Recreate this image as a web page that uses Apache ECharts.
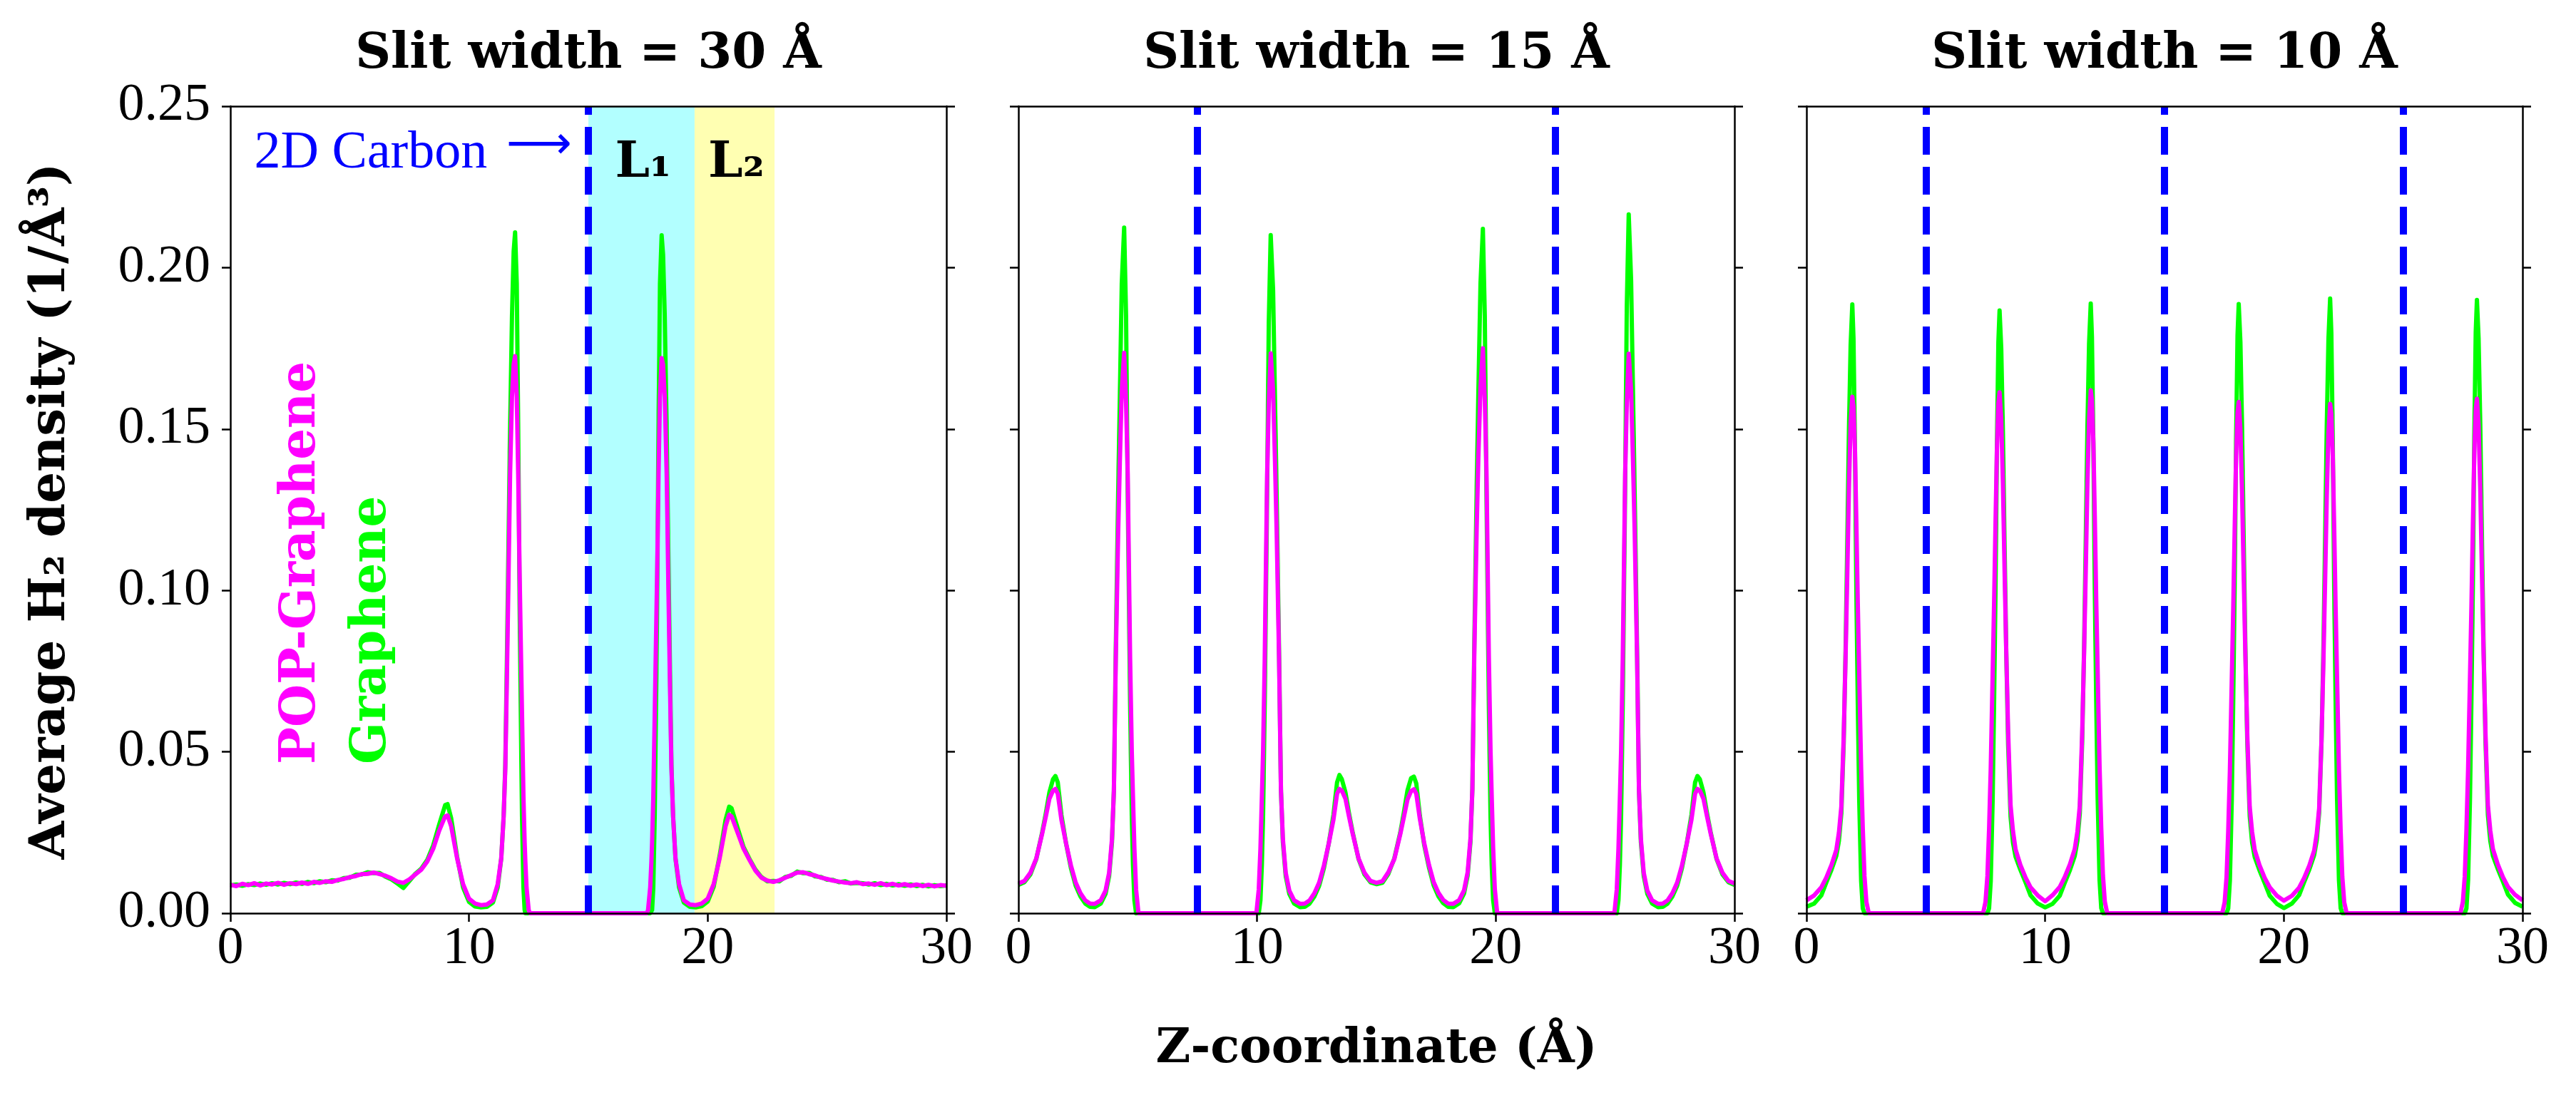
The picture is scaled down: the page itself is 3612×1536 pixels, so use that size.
<!DOCTYPE html>
<html><head><meta charset="utf-8">
<script src="https://cdn.jsdelivr.net/npm/echarts@6/dist/echarts.min.js"></script>
<style>html,body{margin:0;padding:0;background:#fff}#c{width:3612px;height:1536px}</style>
</head><body><div id="c"></div>
<script>
// ---------- data ----------
const panelTitles = ['Slit width = 30 Å', 'Slit width = 15 Å', 'Slit width = 10 Å'];
const wallPositions = [[15], [7.5, 22.5], [5, 15, 25]];
const xRange = [0, 30], xStep = 10;
const yRange = [0, 0.25], yStep = 0.05;
const layerBands = [
  {label: 'L₁', from: 15, to: 19.45, color: '#b2ffff', textAt: 17.3},
  {label: 'L₂', from: 19.45, to: 22.8, color: '#ffffb2', textAt: 21.2}
];
// rows: [z (Å), POP-Graphene density, Graphene density]
const p1Rows = [
[0.00,0.0088,0.0086],[0.25,0.0084,0.0089],[0.50,0.0091,0.0085],[0.75,0.0087,0.0090],[1.00,0.0093,0.0087],
[1.25,0.0086,0.0092],[1.50,0.0092,0.0088],[1.75,0.0089,0.0093],[2.00,0.0094,0.0089],[2.25,0.0088,0.0094],
[2.50,0.0093,0.0090],[2.75,0.0090,0.0095],[3.00,0.0095,0.0091],[3.25,0.0091,0.0097],[3.50,0.0097,0.0093],
[3.75,0.0094,0.0099],[4.00,0.0099,0.0096],[4.25,0.0097,0.0102],[4.50,0.0103,0.0101],[4.75,0.0106,0.0109],
[5.00,0.0112,0.0110],[5.25,0.0115,0.0119],[5.50,0.0121,0.0120],[5.75,0.0122,0.0127],[6.00,0.0126,0.0124],
[6.25,0.0121,0.0125],[6.50,0.0116,0.0113],[6.75,0.0108,0.0105],[7.00,0.0098,0.0092],[7.25,0.0094,0.0078],
[7.50,0.0105,0.0100],[7.75,0.0120,0.0122],[8.00,0.0135,0.0138],[8.25,0.0160,0.0165],[8.50,0.0200,0.0210],
[8.75,0.0256,0.0275],[9.00,0.0300,0.0335],[9.10,0.0303,0.0338],[9.25,0.0270,0.0295],[9.50,0.0170,0.0175],
[9.75,0.0090,0.0080],[10.00,0.0045,0.0035],[10.25,0.0030,0.0021],[10.50,0.0025,0.0018],[10.75,0.0027,0.0020],
[11.00,0.0040,0.0033],[11.20,0.0090,0.0080],[11.35,0.0170,0.0170],[11.45,0.0300,0.0300],[11.52,0.0450,0.0460],
[11.58,0.0700,0.0750],[11.65,0.1020,0.1120],[11.72,0.1360,0.1500],[11.80,0.1600,0.1850],[11.87,0.1700,0.2050],
[11.93,0.1726,0.2109],[12.00,0.1600,0.1950],[12.06,0.1360,0.1500],[12.12,0.1050,0.0950],[12.18,0.0790,0.0550],
[12.22,0.0620,0.0300],[12.28,0.0360,0.0080],[12.33,0.0220,0.0010],[12.36,0.0160,0],[12.41,0.0080,0],
[12.50,0.0010,0],[12.55,0,0],[15.00,0,0],
[17.45,0,0],[17.50,0.0010,0],[17.59,0.0080,0],[17.64,0.0160,0],[17.67,0.0220,0.0010],[17.72,0.0360,0.0080],
[17.78,0.0620,0.0300],[17.82,0.0790,0.0550],[17.88,0.1050,0.0950],[17.94,0.1360,0.1500],[18.00,0.1600,0.1950],
[18.07,0.1720,0.2100],[18.13,0.1700,0.2040],[18.20,0.1600,0.1850],[18.28,0.1360,0.1500],[18.35,0.1020,0.1120],
[18.42,0.0700,0.0750],[18.48,0.0450,0.0460],[18.55,0.0300,0.0300],[18.65,0.0170,0.0170],[18.80,0.0090,0.0080],
[19.00,0.0040,0.0033],[19.25,0.0027,0.0020],[19.50,0.0025,0.0018],[19.75,0.0030,0.0022],[20.00,0.0045,0.0036],
[20.25,0.0090,0.0082],[20.50,0.0170,0.0178],[20.75,0.0270,0.0290],[20.90,0.0305,0.0330],[21.00,0.0300,0.0325],
[21.25,0.0250,0.0265],[21.50,0.0200,0.0205],[21.75,0.0165,0.0168],[22.00,0.0132,0.0135],[22.25,0.0110,0.0112],
[22.50,0.0101,0.0099],[22.75,0.0097,0.0100],[23.00,0.0102,0.0099],[23.25,0.0110,0.0112],[23.50,0.0118,0.0116],
[23.75,0.0126,0.0129],[24.00,0.0127,0.0124],[24.25,0.0121,0.0125],[24.50,0.0117,0.0114],[24.75,0.0110,0.0112],
[25.00,0.0106,0.0104],[25.25,0.0101,0.0103],[25.50,0.0098,0.0096],[25.75,0.0095,0.0099],[26.00,0.0093,0.0092],
[26.25,0.0096,0.0094],[26.50,0.0090,0.0093],[26.75,0.0092,0.0089],[27.00,0.0088,0.0093],[27.25,0.0093,0.0087],
[27.50,0.0087,0.0091],[27.75,0.0091,0.0086],[28.00,0.0086,0.0090],[28.25,0.0090,0.0085],[28.50,0.0085,0.0089],
[28.75,0.0089,0.0084],[29.00,0.0084,0.0088],[29.25,0.0088,0.0083],[29.50,0.0083,0.0087],[29.75,0.0087,0.0084],
[30.00,0.0085,0.0086]
];
const p2Rows = [
[0.00,0.0092,0.0088],[0.25,0.0100,0.0096],[0.50,0.0125,0.0120],[0.75,0.0170,0.0168],[1.00,0.0248,0.0252],
[1.15,0.0300,0.0310],[1.30,0.0355,0.0375],[1.45,0.0380,0.0415],[1.55,0.0385,0.0425],[1.65,0.0370,0.0405],
[1.80,0.0290,0.0305],[2.00,0.0215,0.0215],[2.20,0.0148,0.0140],[2.40,0.0095,0.0085],[2.60,0.0062,0.0052],
[2.80,0.0040,0.0030],[3.00,0.0030,0.0020],[3.20,0.0029,0.0019],[3.45,0.0040,0.0030],[3.65,0.0070,0.0060],
[3.80,0.0125,0.0115],[3.92,0.0230,0.0220],[4.00,0.0380,0.0380],[4.08,0.0790,0.0820],[4.18,0.1180,0.1300],
[4.25,0.1400,0.1600],[4.33,0.1620,0.1950],[4.43,0.1736,0.2124],[4.51,0.1580,0.1850],[4.58,0.1360,0.1300],
[4.68,0.0790,0.0650],[4.75,0.0500,0.0300],[4.80,0.0360,0.0150],[4.86,0.0200,0.0040],[4.93,0.0074,0],
[5.03,0,0],[7.50,0,0],
[9.97,0,0],[10.07,0.0074,0],[10.14,0.0200,0.0040],[10.20,0.0360,0.0150],[10.25,0.0500,0.0300],
[10.32,0.0790,0.0650],[10.42,0.1360,0.1300],[10.49,0.1580,0.1830],[10.57,0.1734,0.2101],[10.67,0.1620,0.1930],
[10.75,0.1400,0.1590],[10.82,0.1180,0.1290],[10.92,0.0790,0.0810],[11.00,0.0380,0.0380],[11.08,0.0230,0.0220],
[11.20,0.0125,0.0115],[11.35,0.0070,0.0060],[11.55,0.0040,0.0030],[11.80,0.0029,0.0019],[12.00,0.0030,0.0020],
[12.20,0.0040,0.0030],[12.40,0.0062,0.0052],[12.60,0.0095,0.0085],[12.80,0.0148,0.0140],[13.00,0.0215,0.0215],
[13.20,0.0290,0.0305],[13.35,0.0370,0.0405],[13.45,0.0385,0.0428],[13.55,0.0380,0.0415],[13.70,0.0355,0.0375],
[13.85,0.0300,0.0310],[14.00,0.0248,0.0252],[14.25,0.0170,0.0168],[14.50,0.0125,0.0120],[14.75,0.0100,0.0096],
[15.00,0.0094,0.0090],
[15.25,0.0099,0.0094],[15.50,0.0127,0.0122],[15.75,0.0168,0.0170],[16.00,0.0245,0.0250],[16.15,0.0298,0.0312],
[16.30,0.0352,0.0380],[16.45,0.0378,0.0418],[16.57,0.0384,0.0423],[16.67,0.0370,0.0402],[16.82,0.0292,0.0302],
[17.00,0.0218,0.0212],[17.20,0.0150,0.0142],[17.40,0.0096,0.0086],[17.60,0.0063,0.0052],[17.80,0.0041,0.0031],
[18.00,0.0030,0.0020],[18.22,0.0029,0.0019],[18.47,0.0041,0.0031],[18.67,0.0071,0.0061],[18.82,0.0126,0.0116],
[18.94,0.0232,0.0222],[19.02,0.0385,0.0385],[19.10,0.0800,0.0830],[19.20,0.1190,0.1310],[19.27,0.1410,0.1610],
[19.36,0.1630,0.1950],[19.46,0.1750,0.2120],[19.54,0.1590,0.1850],[19.61,0.1370,0.1300],[19.71,0.0795,0.0650],
[19.78,0.0505,0.0300],[19.83,0.0362,0.0150],[19.89,0.0202,0.0040],[19.96,0.0075,0],[20.06,0,0],
[22.50,0,0],
[24.97,0,0],[25.07,0.0074,0],[25.14,0.0200,0.0040],[25.20,0.0360,0.0150],[25.25,0.0500,0.0300],
[25.32,0.0790,0.0650],[25.42,0.1360,0.1320],[25.49,0.1580,0.1880],[25.57,0.1733,0.2165],[25.67,0.1620,0.1960],
[25.75,0.1400,0.1610],[25.82,0.1180,0.1300],[25.92,0.0790,0.0820],[26.00,0.0380,0.0380],[26.08,0.0230,0.0220],
[26.20,0.0125,0.0115],[26.35,0.0070,0.0060],[26.55,0.0040,0.0030],[26.80,0.0029,0.0019],[27.00,0.0030,0.0020],
[27.20,0.0040,0.0030],[27.40,0.0062,0.0052],[27.60,0.0095,0.0085],[27.80,0.0148,0.0140],[28.00,0.0215,0.0215],
[28.20,0.0290,0.0305],[28.35,0.0370,0.0405],[28.45,0.0385,0.0425],[28.55,0.0380,0.0415],[28.70,0.0355,0.0375],
[28.85,0.0300,0.0310],[29.00,0.0248,0.0252],[29.25,0.0170,0.0168],[29.50,0.0125,0.0120],[29.75,0.0100,0.0096],
[30.00,0.0092,0.0088]
];
const p3Rows = [
[0.00,0.0040,0.0020],[0.32,0.0055,0.0030],[0.62,0.0080,0.0055],[0.83,0.0110,0.0095],[1.05,0.0150,0.0135],
[1.25,0.0196,0.0178],[1.36,0.0250,0.0225],[1.46,0.0330,0.0310],[1.56,0.0550,0.0530],[1.64,0.0800,0.0820],
[1.71,0.1050,0.1150],[1.78,0.1320,0.1500],[1.85,0.1520,0.1760],[1.92,0.1600,0.1886],[1.97,0.1570,0.1780],
[2.03,0.1440,0.1450],[2.09,0.1210,0.1000],[2.15,0.0960,0.0650],[2.21,0.0740,0.0350],[2.29,0.0450,0.0100],
[2.36,0.0260,0.0015],[2.43,0.0115,0],[2.51,0.0035,0],[2.61,0,0],[5.00,0,0],
[7.40,0,0],[7.50,0.0035,0],[7.58,0.0115,0],[7.65,0.0260,0.0015],[7.72,0.0450,0.0100],
[7.80,0.0740,0.0350],[7.86,0.0960,0.0650],[7.92,0.1210,0.1000],[7.98,0.1440,0.1450],[8.04,0.1580,0.1770],
[8.09,0.1614,0.1867],[8.16,0.1530,0.1750],[8.23,0.1330,0.1490],[8.30,0.1060,0.1140],[8.37,0.0810,0.0810],
[8.45,0.0560,0.0520],[8.55,0.0335,0.0300],[8.65,0.0255,0.0220],[8.76,0.0198,0.0175],[8.96,0.0150,0.0135],
[9.18,0.0110,0.0095],[9.39,0.0080,0.0055],[9.69,0.0055,0.0030],[10.00,0.0037,0.0018],
[10.31,0.0056,0.0029],[10.61,0.0081,0.0054],[10.82,0.0112,0.0094],[11.04,0.0152,0.0134],[11.24,0.0199,0.0177],
[11.35,0.0252,0.0224],[11.45,0.0332,0.0308],[11.55,0.0555,0.0528],[11.63,0.0805,0.0818],[11.70,0.1055,0.1148],
[11.77,0.1330,0.1500],[11.84,0.1530,0.1765],[11.91,0.1620,0.1889],[11.96,0.1590,0.1785],[12.02,0.1460,0.1455],
[12.08,0.1230,0.1005],[12.14,0.0970,0.0655],[12.20,0.0750,0.0355],[12.28,0.0455,0.0102],[12.35,0.0265,0.0016],
[12.42,0.0118,0],[12.50,0.0036,0],[12.60,0,0],[15.00,0,0],
[17.42,0,0],[17.52,0.0034,0],[17.60,0.0112,0],[17.67,0.0255,0.0015],[17.74,0.0442,0.0102],
[17.82,0.0728,0.0355],[17.88,0.0945,0.0660],[17.94,0.1190,0.1010],[18.00,0.1415,0.1465],[18.06,0.1552,0.1790],
[18.11,0.1584,0.1887],[18.18,0.1500,0.1770],[18.25,0.1305,0.1505],[18.32,0.1040,0.1150],[18.39,0.0795,0.0820],
[18.47,0.0550,0.0525],[18.57,0.0330,0.0302],[18.67,0.0252,0.0220],[18.78,0.0196,0.0174],[18.98,0.0149,0.0133],
[19.20,0.0109,0.0093],[19.41,0.0080,0.0054],[19.71,0.0054,0.0029],[20.00,0.0039,0.0016],
[20.34,0.0054,0.0030],[20.64,0.0079,0.0056],[20.85,0.0109,0.0096],[21.07,0.0148,0.0136],[21.27,0.0194,0.0180],
[21.38,0.0247,0.0227],[21.48,0.0325,0.0312],[21.58,0.0542,0.0535],[21.66,0.0785,0.0826],[21.73,0.1030,0.1160],
[21.80,0.1295,0.1512],[21.87,0.1490,0.1780],[21.94,0.1578,0.1904],[21.99,0.1548,0.1798],[22.05,0.1420,0.1465],
[22.11,0.1195,0.1012],[22.17,0.0948,0.0658],[22.23,0.0730,0.0355],[22.31,0.0444,0.0102],[22.38,0.0257,0.0016],
[22.45,0.0113,0],[22.53,0.0034,0],[22.63,0,0],[25.00,0,0],
[27.40,0,0],[27.50,0.0035,0],[27.58,0.0114,0],[27.65,0.0257,0.0015],[27.72,0.0446,0.0102],
[27.80,0.0733,0.0357],[27.86,0.0952,0.0662],[27.92,0.1200,0.1015],[27.98,0.1425,0.1475],[28.04,0.1562,0.1800],
[28.09,0.1594,0.1900],[28.16,0.1512,0.1780],[28.23,0.1315,0.1515],[28.30,0.1050,0.1160],[28.37,0.0802,0.0825],
[28.45,0.0556,0.0530],[28.55,0.0334,0.0305],[28.65,0.0256,0.0224],[28.76,0.0199,0.0178],[28.96,0.0152,0.0138],
[29.18,0.0112,0.0098],[29.39,0.0082,0.0058],[29.69,0.0057,0.0032],[30.00,0.0040,0.0020]
];
const rowsByPanel = [p1Rows, p2Rows, p3Rows];

// ---------- layout & style ----------
const GL = [323, 1428, 2533], GT = 149, GW = 1004, GH = 1132;
const BOLD = 'DejaVu Serif', REG = 'Liberation Serif';
const axisLine = {color: '#000', width: 2.5};

const chart = echarts.init(document.getElementById('c'));
const grid = GL.map(l => ({left: l, top: GT, width: GW, height: GH}));
const xAxis = [], yAxis = [], series = [];
for (let i = 0; i < 3; i++) {
  xAxis.push({gridIndex: i, type: 'value', min: xRange[0], max: xRange[1], interval: xStep, position: 'bottom', z: 10,
    axisLine: {show: true, onZero: false, lineStyle: axisLine},
    axisTick: {show: true, length: 12, lineStyle: axisLine},
    axisLabel: {show: true, margin: 14, fontFamily: REG, fontSize: 74, color: '#000', showMinLabel: true, showMaxLabel: true},
    splitLine: {show: false}});
  xAxis.push({gridIndex: i, type: 'value', min: xRange[0], max: xRange[1], interval: xStep, position: 'top', z: 10,
    axisLine: {show: true, onZero: false, lineStyle: axisLine},
    axisTick: {show: false}, axisLabel: {show: false}, splitLine: {show: false}});
  yAxis.push({gridIndex: i, type: 'value', min: yRange[0], max: yRange[1], interval: yStep, position: 'left', z: 10,
    axisLine: {show: true, onZero: false, lineStyle: axisLine},
    axisTick: {show: true, length: 12, lineStyle: axisLine},
    axisLabel: {show: i === 0, margin: 28, fontFamily: REG, fontSize: 74, color: '#000',
      formatter: v => v.toFixed(2), showMinLabel: true, showMaxLabel: true},
    splitLine: {show: false}});
  yAxis.push({gridIndex: i, type: 'value', min: yRange[0], max: yRange[1], interval: yStep, position: 'right', z: 10,
    axisLine: {show: true, onZero: false, lineStyle: axisLine},
    axisTick: {show: true, length: 12, lineStyle: axisLine},
    axisLabel: {show: false}, splitLine: {show: false}});

  const rows = rowsByPanel[i];
  const g = {type: 'line', name: 'Graphene', xAxisIndex: 2 * i, yAxisIndex: 2 * i,
    data: rows.map(r => [r[0], r[2]]), showSymbol: false, symbol: 'none', z: 2,
    lineStyle: {color: '#00ff00', width: 6, join: 'round'}, animation: false};
  if (i === 0) {
    g.markArea = {silent: true, label: {show: false},
      data: layerBands.map(b => [{xAxis: b.from, itemStyle: {color: b.color, opacity: 1}}, {xAxis: b.to}])};
  }
  series.push(g);
  series.push({type: 'line', name: 'POP-Graphene', xAxisIndex: 2 * i, yAxisIndex: 2 * i,
    data: rows.map(r => [r[0], r[1]]), showSymbol: false, symbol: 'none', z: 3,
    lineStyle: {color: '#ff00ff', width: 6, join: 'round'}, animation: false,
    markLine: {silent: true, symbol: ['none', 'none'], label: {show: false}, animation: false,
      lineStyle: {color: '#0000ff', width: 10, type: [39, 17], opacity: 1},
      emphasis: {disabled: true},
      data: wallPositions[i].map(w => ({xAxis: w}))}});
}

function txt(x, y, text, o) {
  const st = Object.assign({text: text, x: 0, y: 0, fill: '#000', fontFamily: BOLD, fontWeight: 'bold', fontSize: 69,
    align: 'center', verticalAlign: 'middle', textAlign: 'center', textVerticalAlign: 'middle'}, o.style || {});
  if (st.align) st.textAlign = st.align;
  return {type: 'text', x: x, y: y, rotation: o.rotation || 0, z: 20, silent: true, style: st};
}
const toPx = (z, v) => [GL[0] + (z - xRange[0]) / (xRange[1] - xRange[0]) * GW, GT + (yRange[1] - v) / (yRange[1] - yRange[0]) * GH];
const graphic = [];
panelTitles.forEach((t, i) => graphic.push(txt(GL[i] + GW / 2, 77.5, t, {})));
graphic.push(txt(GL[1] + GW / 2, 1473, 'Z-coordinate (Å)', {style: {fontSize: 67}}));
graphic.push(txt(72.5, 717, 'Average H₂ density (1/Å³)', {rotation: Math.PI / 2}));
graphic.push(txt(423.5, 1072, 'POP-Graphene', {rotation: Math.PI / 2, style: {align: 'left', fill: '#ff00ff'}}));
graphic.push(txt(522.5, 1072, 'Graphene', {rotation: Math.PI / 2, style: {align: 'left', fill: '#00ff00'}}));
let p = toPx(1.0, 0.2353);
graphic.push(txt(p[0], p[1], '2D Carbon', {style: {align: 'left', fill: '#0000ff', fontFamily: REG, fontWeight: 'normal', fontSize: 74}}));
p = toPx(14.3, 0.2375);
graphic.push(txt(p[0], p[1], '⟶', {style: {align: 'right', fill: '#0000ff', fontFamily: 'DejaVu Sans', fontWeight: 'normal', fontSize: 64}}));
layerBands.forEach(b => { const q = toPx(b.textAt, 0.2320); graphic.push(txt(q[0], q[1], b.label, {})); });

chart.setOption({animation: false, backgroundColor: '#fff', grid, xAxis, yAxis, series, graphic});
</script></body></html>
